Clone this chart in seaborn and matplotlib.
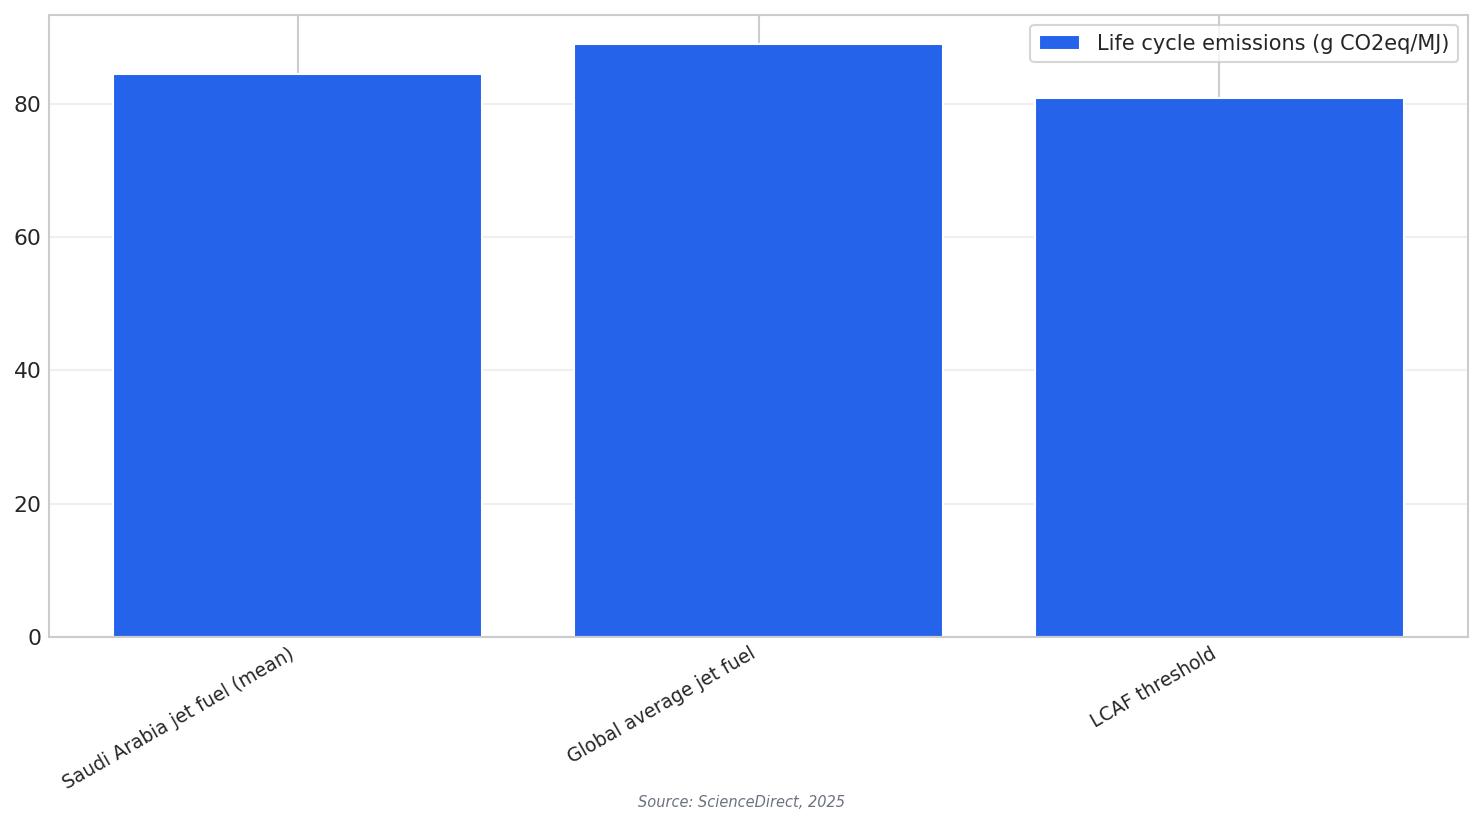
import matplotlib
matplotlib.use("Agg")
import matplotlib.pyplot as plt
import seaborn as sns
import pandas as pd

# values
categories = ["Saudi Arabia jet fuel (mean)", "Global average jet fuel", "LCAF threshold"]
emissions = [84.5, 88.9, 80.8]
series_label = "Life cycle emissions (g CO2eq/MJ)"

df = pd.DataFrame({"category": categories, "value": emissions})

sns.set_theme(style="whitegrid")

fig, ax = plt.subplots(figsize=(1483 / 150, 824 / 150), dpi=150)
fig.subplots_adjust(left=0.033, right=0.99, top=0.982, bottom=0.227)

ax.bar(df["category"], df["value"], width=0.8, color="#2563EB", label=series_label, zorder=2)
ax.set_axisbelow(True)
ax.grid(axis="y", alpha=0.3)
for s in ax.spines.values():
    s.set_linewidth(1.0)

ax.set_xlabel("")
ax.set_ylabel("")
ax.tick_params(axis="y", labelsize=10.5, length=0, pad=3.5)
ax.tick_params(axis="x", length=0, pad=3.5)
plt.setp(ax.get_xticklabels(), rotation=30, ha="right", fontsize=9)
ax.legend(loc="upper right", fontsize=10)

fig.text(0.5, 0.021, "Source: ScienceDirect, 2025", ha="center", fontsize=7,
         style="italic", color="#6b7280")

fig.savefig("out.png", dpi=150)
